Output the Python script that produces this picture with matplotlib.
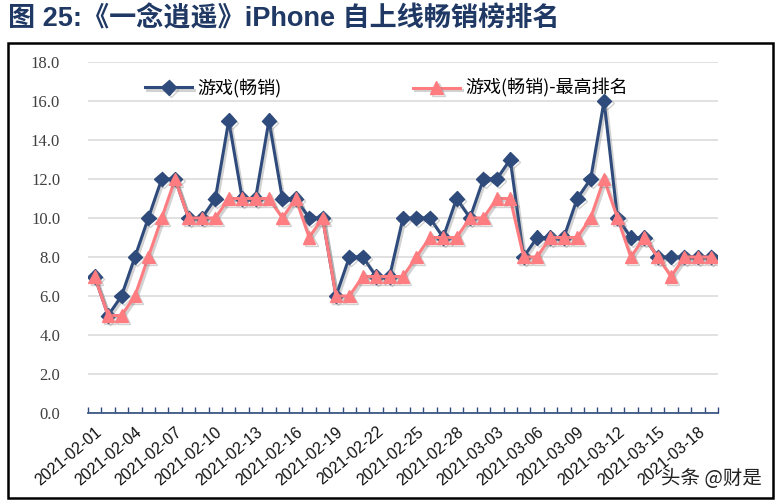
import matplotlib
matplotlib.use("Agg")
import matplotlib.pyplot as plt
import matplotlib.patheffects as pe
from matplotlib.patches import Rectangle
import numpy as np
import datetime as dt

plt.rcParams['font.family'] = ['Liberation Sans', 'Noto Sans CJK SC', 'DejaVu Sans']

start = dt.date(2021, 2, 1)
n_days = 47
dates = [(start + dt.timedelta(days=i)).strftime("%Y-%m-%d") for i in range(n_days)]

sales_rank = [7, 5, 6, 8, 10, 12, 12, 10, 10, 11, 15, 11, 11, 15, 11, 11, 10, 10,
              6, 8, 8, 7, 7, 10, 10, 10, 9, 11, 10, 12, 12, 13, 8, 9, 9, 9, 11,
              12, 16, 10, 9, 9, 8, 8, 8, 8, 8]
best_rank = [7, 5, 5, 6, 8, 10, 12, 10, 10, 10, 11, 11, 11, 11, 10, 11, 9, 10,
             6, 6, 7, 7, 7, 7, 8, 9, 9, 9, 10, 10, 11, 11, 8, 8, 9, 9, 9,
             10, 12, 10, 8, 9, 8, 7, 8, 8, 8]
series_names = ["游戏(畅销)", "游戏(畅销)-最高排名"]
yticks = np.arange(0, 18.1, 2.0)

blue = "#2E4B7C"
pink = "#FF7C80"

fig = plt.figure(figsize=(7.76, 5.04), dpi=100)
W, H = 776, 504

# outer frame
fig.patches.append(Rectangle((8 / W, 6 / H), (773 - 8) / W, (461 - 6) / H,
                             transform=fig.transFigure, fill=False,
                             edgecolor="black", linewidth=1.8))

fig.text(8 / W, 1 - 19 / H, "图 25:《一念逍遥》iPhone 自上线畅销榜排名",
         fontsize=19.5, fontweight="bold", color="#1F3864",
         family=['Liberation Sans', 'Noto Sans CJK SC'], va="center", ha="left")

ax = fig.add_axes([88 / W, (H - 413) / H, (718 - 88) / W, (413 - 62) / H])
x = np.arange(n_days)

shadow = [pe.SimpleLineShadow(offset=(1.5, -1.5), shadow_color="gray", alpha=0.35), pe.Normal()]
ax.plot(x, sales_rank, color=blue, linewidth=2.2, marker="D", markersize=7.5,
        label=series_names[0], zorder=3, path_effects=shadow)
ax.plot(x, best_rank, color=pink, linewidth=2.2, marker="^", markersize=9,
        label=series_names[1], zorder=4, path_effects=shadow)

ax.set_xlim(-0.5, n_days - 0.5)
ax.set_ylim(0, 18)
ax.set_yticks(yticks)
ax.set_yticklabels([f"{v:.1f}" for v in yticks], family="Liberation Serif",
                   fontsize=12, color="#404040")
ax.tick_params(axis="y", length=0, pad=20)
ax.yaxis.grid(True, color="#D9D9D9", linewidth=1.1)
ax.set_axisbelow(True)

ax.set_xticks(x[::3])
ax.set_xticklabels([dates[i] for i in range(0, n_days, 3)], rotation=40,
                   ha="right", rotation_mode="anchor", fontsize=11.5, color="#111111")
ax.set_xticks(np.arange(-0.5, n_days, 1.0), minor=True)
ax.tick_params(axis="x", which="major", length=0, pad=8)
ax.tick_params(axis="x", which="minor", length=4, direction="in", color=blue, width=1)

for s in ["top", "right", "left"]:
    ax.spines[s].set_visible(False)
ax.spines["bottom"].set_color(blue)
ax.spines["bottom"].set_linewidth(1.2)

h, l = ax.get_legend_handles_labels()
leg1 = ax.legend([h[0]], [l[0]], loc="center left", bbox_to_anchor=(0.065, 0.925),
                 frameon=False, handlelength=2.6, handletextpad=0.3,
                 prop={'family': ['Noto Sans CJK SC'], 'size': 13})
ax.add_artist(leg1)
ax.legend([h[1]], [l[1]], loc="center left", bbox_to_anchor=(0.49, 0.925),
          frameon=False, handlelength=2.6, handletextpad=0.3,
          prop={'family': ['Noto Sans CJK SC'], 'size': 13})

fig.text(762 / W, 1 - 478 / H, "头条 @财是", fontsize=14, color="#222222",
         family=['Noto Sans CJK SC'], ha="right", va="center")

fig.savefig("out.png", dpi=100)
